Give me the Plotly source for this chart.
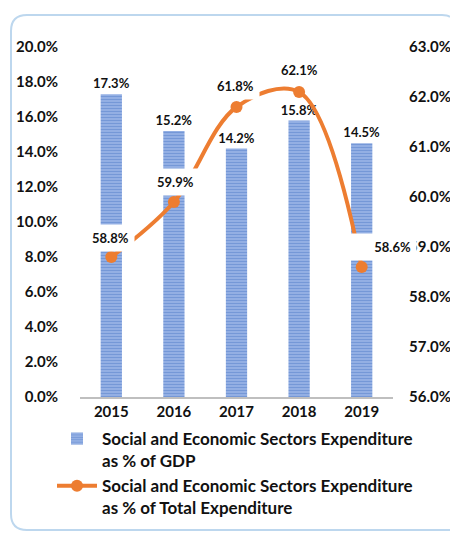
import plotly.graph_objects as go

years = ["2015", "2016", "2017", "2018", "2019"]
gdp_share = [0.173, 0.152, 0.142, 0.158, 0.145]
total_share = [0.588, 0.599, 0.618, 0.621, 0.586]
bar_name = "Social and Economic Sectors Expenditure<br>as % of GDP"
line_name = "Social and Economic Sectors Expenditure<br>as % of Total Expenditure"

W, H = 450, 533
L, R, T, B = 80, 57, 47, 136
FONT = "Lato"
BLUE = "#4472C4"
ORANGE = "#ED7D31"

pw, ph = W - L - R, H - T - B


def px(x):
    return (x - L) / pw


def py(y):
    return (H - B - y) / ph


fig = go.Figure()
fig.add_trace(go.Bar(
    x=years, y=gdp_share, name=bar_name,
    marker=dict(color="#9EB7E8", line=dict(width=0),
                pattern=dict(shape="-", fgcolor=BLUE, bgcolor="#A6BEEB", size=3, solidity=0.6)),
    texttemplate="%{y:.1%}", textposition="outside", cliponaxis=False, constraintext="none",
    textfont=dict(family=FONT, size=13, color="#111", weight="bold"),
))
fig.add_trace(go.Scatter(
    x=years, y=total_share, name=line_name, yaxis="y2",
    mode="lines+markers", line=dict(color=ORANGE, width=4, shape="spline", smoothing=1),
    marker=dict(color=ORANGE, size=12), cliponaxis=False,
))

offsets = [(-1, 19), (2, 20), (-1, 21), (0, 22), (20, 20)]
for i, (v, (dx, dy)) in enumerate(zip(total_share, offsets)):
    kw = {}
    if i == len(years) - 1:
        kw = dict(width=58, align="right")
    fig.add_annotation(
        x=i, y=v, yref="y2", xshift=dx, yshift=dy, showarrow=False,
        text=f"{v*100:.1f}%", bgcolor="white", borderpad=5,
        font=dict(family=FONT, size=13, color="#111", weight="bold"), **kw)

# rounded frame (open on the right, where it runs off the picture)
x0, x1, y0, y1, r = 11, 450, 15, 530, 16
path = (f"M {px(x1)},{py(y0 + 2)} Q {px(x1 - 2)},{py(y0)} {px(x1 - 8)},{py(y0)} "
        f"L {px(x0 + r)},{py(y0)} Q {px(x0)},{py(y0)} {px(x0)},{py(y0 + r)} "
        f"L {px(x0)},{py(y1 - r)} Q {px(x0)},{py(y1)} {px(x0 + r)},{py(y1)} "
        f"L {px(x1)},{py(y1)}")
fig.add_shape(type="path", path=path, xref="paper", yref="paper",
              line=dict(color="#BDD7EE", width=2), layer="below")

tickfont = dict(family=FONT, size=15, color="#111", weight="bold")
fig.update_layout(
    width=W, height=H, margin=dict(l=L, r=R, t=T, b=B, autoexpand=False),
    paper_bgcolor="white", plot_bgcolor="white",
    bargap=0.66, showlegend=True,
    xaxis=dict(type="category", showline=True, linecolor="#BFBFBF", linewidth=2, ticks="",
               tickfont=tickfont, range=[-0.5, 4.5]),
    yaxis=dict(range=[0, 0.2], dtick=0.02, tickformat=".1%", showgrid=False,
               zeroline=False, tickfont=tickfont, ticklabelstandoff=21),
    yaxis2=dict(range=[0.56, 0.63], dtick=0.01, tickformat=".1%", showgrid=False,
                zeroline=False, overlaying="y", side="right", tickfont=tickfont,
                ticklabelstandoff=15),
    legend=dict(x=px(52), y=py(421), xanchor="left", yanchor="top",
                font=dict(family=FONT, size=17, color="#111", weight="bold"),
                itemwidth=40, valign="top", bgcolor="rgba(0,0,0,0)"),
)

fig.write_html("out.html", config={"displayModeBar": False},
               post_script="document.body.style.margin='0';")
